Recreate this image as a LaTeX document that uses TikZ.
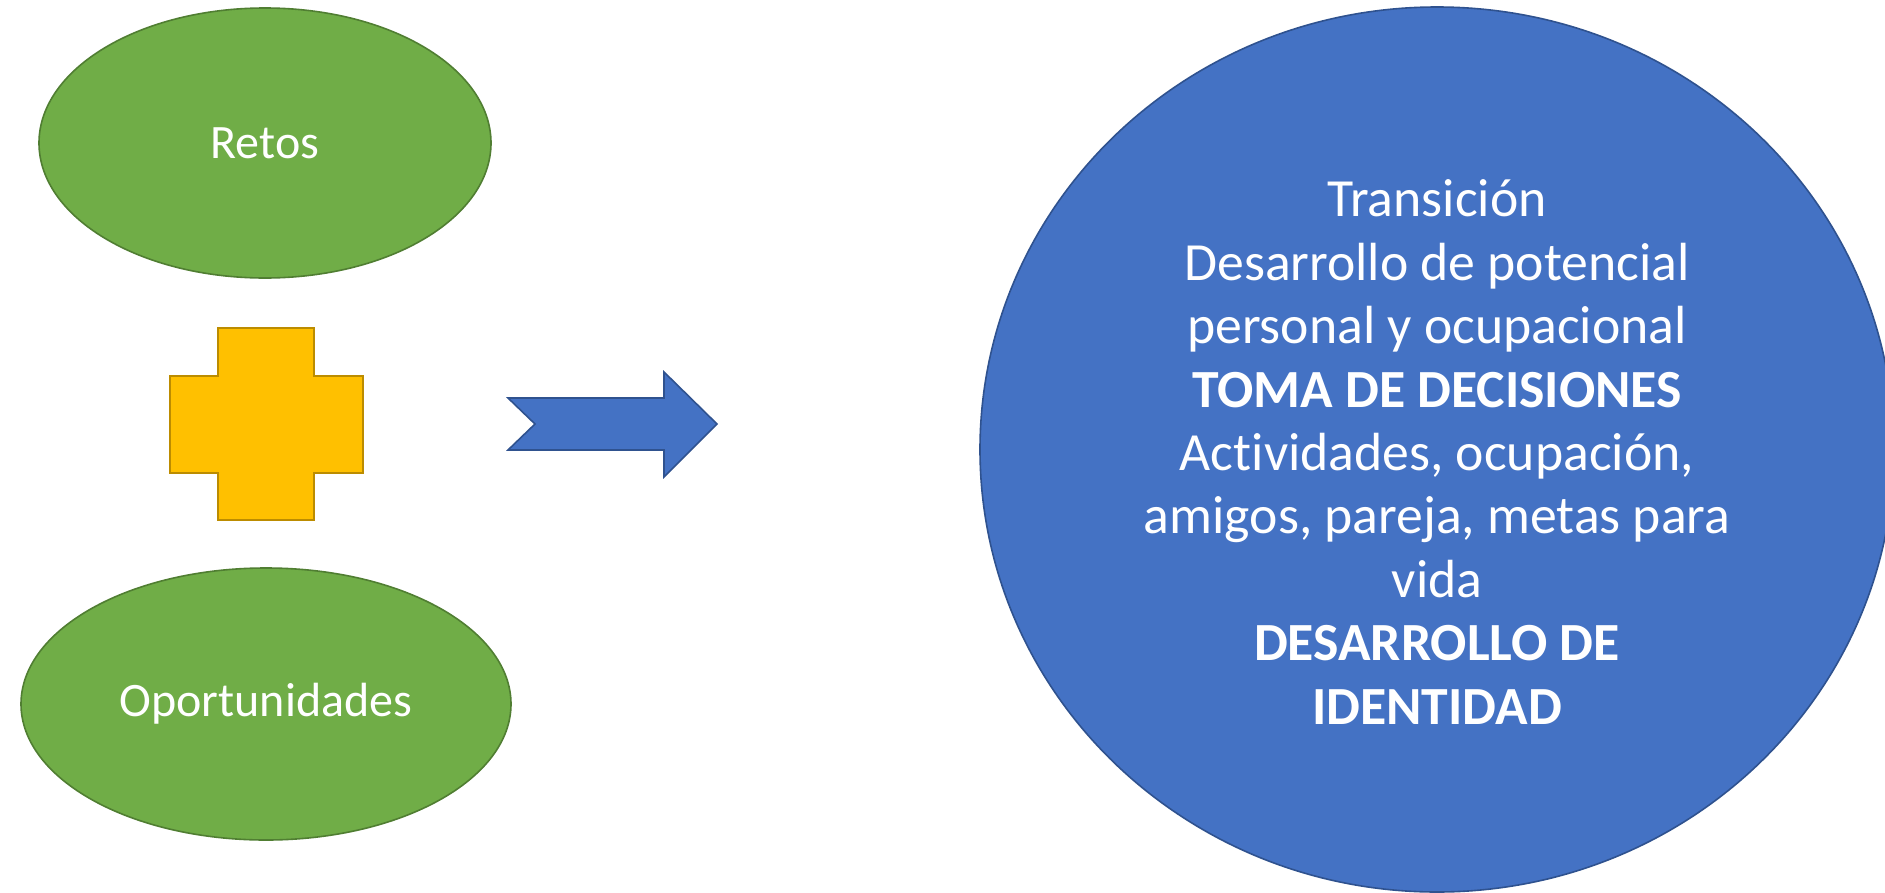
\documentclass[tikz,border=0pt]{standalone}
\usepackage{fontspec}
\setmainfont{Carlito}[Ligatures=NoCommon]
\usetikzlibrary{shapes.geometric}
\definecolor{okgreen}{HTML}{70AD47}
\definecolor{okgreenline}{HTML}{507E32}
\definecolor{okblue}{HTML}{4472C4}
\definecolor{okblueline}{HTML}{2F528F}
\definecolor{okgold}{HTML}{FFC000}
\definecolor{okgoldline}{HTML}{BC8C00}
\tikzset{
  greenoval/.style={ellipse, draw=okgreenline, fill=okgreen, line width=1.6pt, inner sep=0pt,
    text=white, font=\fontsize{48}{58}\selectfont},
  bigcircle/.style={ellipse, draw=okblueline, fill=okblue, line width=1.6pt, inner sep=0pt},
  bigtext/.style={text=white, align=center, font=\fontsize{53.7}{63.4}\selectfont, inner sep=0pt},
  plusshape/.style={draw=okgoldline, fill=okgold, line width=1.6pt},
  blockarrow/.style={draw=okblueline, fill=okblue, line width=1.6pt, line join=miter}
}
\begin{document}
\begin{tikzpicture}[x=1pt, y=-1pt]
\useasboundingbox (0,0) rectangle (1885,892);
% left ellipses
\node[greenoval, minimum width=452pt, minimum height=270pt] (retos) at (265,143) {Retos};
\node[greenoval, minimum width=490pt, minimum height=272pt] (oport) at (266,704) {Oportunidades};
% plus sign
\draw[plusshape] (218,328) -- (314,328) -- (314,376) -- (363,376) -- (363,473) -- (314,473)
  -- (314,520) -- (218,520) -- (218,473) -- (170,473) -- (170,376) -- (218,376) -- cycle;
% block arrow
\draw[blockarrow] (508,398) -- (664,398) -- (664,372) -- (717,424) -- (664,477) -- (664,450)
  -- (508,450) -- (535,424) -- cycle;
% big circle
\node[bigcircle, minimum width=914pt, minimum height=885pt] (circ) at (1437,449.5) {};
\node[bigtext] (txt) at (1437,452) {Transición\\
Desarrollo de potencial\\
personal y ocupacional\\
\textbf{TOMA DE DECISIONES}\\
Actividades, ocupación,\\
amigos, pareja, metas para\\
vida\\
\textbf{DESARROLLO DE}\\
\textbf{IDENTIDAD}};
\end{tikzpicture}
\end{document}
